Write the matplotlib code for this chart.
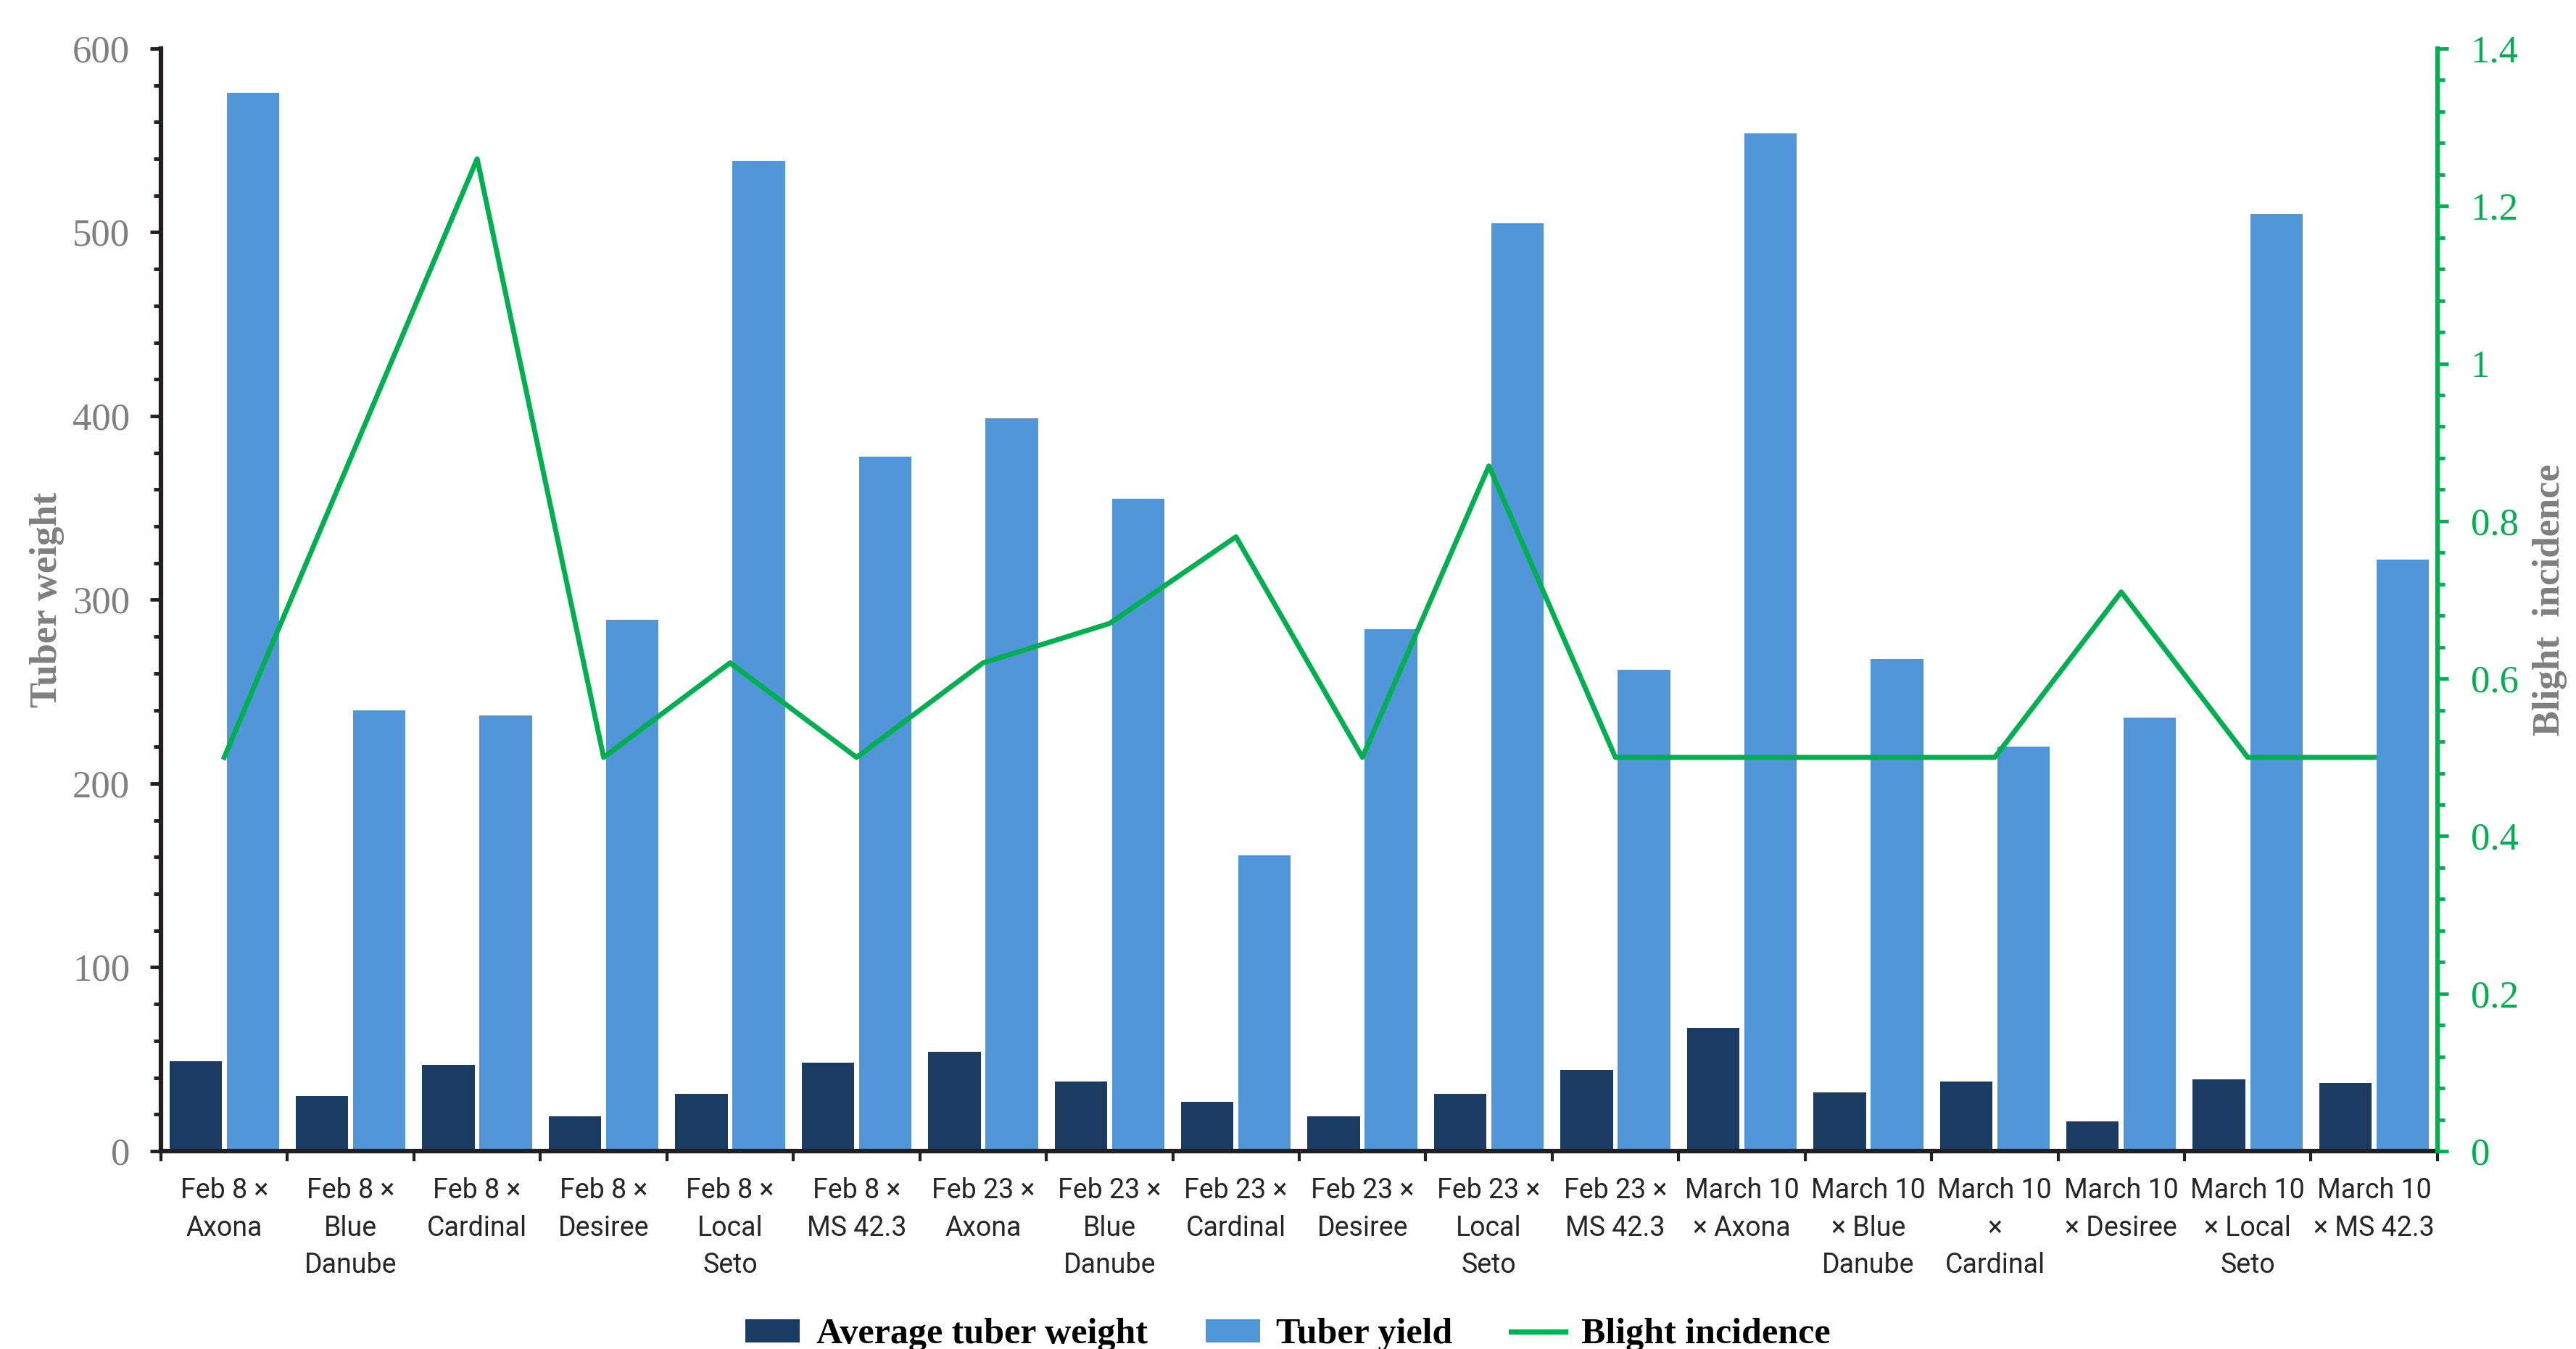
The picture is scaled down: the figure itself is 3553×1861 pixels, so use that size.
import matplotlib
matplotlib.use('Agg')
import matplotlib.pyplot as plt
from matplotlib.ticker import MultipleLocator, FixedLocator, NullFormatter

categories = [
    'Feb 8 ×\nAxona', 'Feb 8 ×\nBlue\nDanube', 'Feb 8 ×\nCardinal', 'Feb 8 ×\nDesiree',
    'Feb 8 ×\nLocal\nSeto', 'Feb 8 ×\nMS 42.3',
    'Feb 23 ×\nAxona', 'Feb 23 ×\nBlue\nDanube', 'Feb 23 ×\nCardinal', 'Feb 23 ×\nDesiree',
    'Feb 23 ×\nLocal\nSeto', 'Feb 23 ×\nMS 42.3',
    'March 10\n× Axona', 'March 10\n× Blue\nDanube', 'March 10\n×\nCardinal', 'March 10\n× Desiree',
    'March 10\n× Local\nSeto', 'March 10\n× MS 42.3',
]
avg_weight = [49, 30, 47, 19, 31, 48, 54, 38, 27, 19, 31, 44, 67, 32, 38, 16, 39, 37]
tuber_yield = [576, 240, 237, 289, 539, 378, 399, 355, 161, 284, 505, 262, 554, 268, 220, 236, 510, 322]
blight = [0.5, 0.88, 1.26, 0.5, 0.62, 0.5, 0.62, 0.67, 0.78, 0.5, 0.87, 0.5, 0.5, 0.5, 0.5, 0.71, 0.5, 0.5]

dark = '#1A3C63'
light = '#5096D9'
green = '#00B050'
gray = '#7F7F7F'
serif = 'Liberation Serif'

fig = plt.figure(figsize=(35.53, 18.61), dpi=100)
ax = fig.add_axes([0.0625, 0.1467, 0.8837, 0.8173])
ax2 = ax.twinx()

x = list(range(len(categories)))
w = 0.415
ax.bar([i - 0.2265 for i in x], avg_weight, w, color=dark, label='Average tuber weight', zorder=2)
ax.bar([i + 0.2265 for i in x], tuber_yield, w, color=light, label='Tuber yield', zorder=2)
ax2.plot(x, blight, color=green, lw=5, label='Blight incidence')

ax.set_xlim(-0.5, len(categories) - 0.5)
ax.set_ylim(0, 600)
ax2.set_ylim(0, 1.4)

# left axis
ax.yaxis.set_major_locator(MultipleLocator(100))
ax.yaxis.set_minor_locator(MultipleLocator(20))
ax.tick_params(axis='y', which='major', length=11, width=3.5, direction='out', pad=20,
               labelsize=38, labelcolor=gray, color='#231F20')
ax.tick_params(axis='y', which='minor', length=7, width=3.5, direction='out', color='#231F20')
for t in ax.get_yticklabels():
    t.set_family(serif)

# x axis: ticks on group boundaries, labels at centres
ax.xaxis.set_major_locator(FixedLocator([i - 0.5 for i in range(len(categories) + 1)]))
ax.xaxis.set_major_formatter(NullFormatter())
ax.xaxis.set_minor_locator(FixedLocator(x))
ax.set_xticklabels(categories, minor=True)
ax.tick_params(axis='x', which='major', length=10, width=3, color='#231F20')
ax.tick_params(axis='x', which='minor', length=0, pad=26, labelsize=27, labelcolor='#262626')
for t in ax.get_xticklabels(minor=True):
    t.set_family('Roboto')
    t.set_linespacing(1.5)
    t.set_verticalalignment('top')

# right axis
ax2.yaxis.set_major_locator(MultipleLocator(0.2))
ax2.yaxis.set_minor_locator(MultipleLocator(0.04))
ax2.set_yticks([0, 0.2, 0.4, 0.6, 0.8, 1.0, 1.2, 1.4])
ax2.set_yticklabels(['0', '0.2', '0.4', '0.6', '0.8', '1', '1.2', '1.4'])
ax2.tick_params(axis='y', which='major', length=11, width=3.5, color=green, pad=22,
                labelsize=38, labelcolor=green)
ax2.tick_params(axis='y', which='minor', length=7, width=3.5, color=green)
for t in ax2.get_yticklabels():
    t.set_family(serif)

for a in (ax, ax2):
    a.spines['top'].set_visible(False)
ax.spines['right'].set_visible(False)
ax.spines['left'].set_linewidth(4.5)
ax.spines['left'].set_color('#231F20')
ax.spines['bottom'].set_linewidth(4.5)
ax.spines['bottom'].set_color('#231F20')
ax2.spines['left'].set_visible(False)
ax2.spines['bottom'].set_visible(False)
ax2.spines['right'].set_linewidth(4.5)
ax2.spines['right'].set_color(green)

ax.set_ylabel('Tuber weight', fontsize=38, fontweight='bold', family=serif, color=gray, labelpad=8)
ax2.set_ylabel('Blight  incidence', fontsize=38, fontweight='bold', family=serif, color=gray,
               labelpad=14)

h1, l1 = ax.get_legend_handles_labels()
h2, l2 = ax2.get_legend_handles_labels()
fig.legend(h1 + h2, l1 + l2, loc='lower center', bbox_to_anchor=(0.5, -0.026), ncol=3,
           frameon=False, prop={'family': serif, 'weight': 'bold', 'size': 36},
           handlelength=1.5, handleheight=0.6, handletextpad=0.45, columnspacing=1.6)

fig.savefig('out.png', dpi=100)
